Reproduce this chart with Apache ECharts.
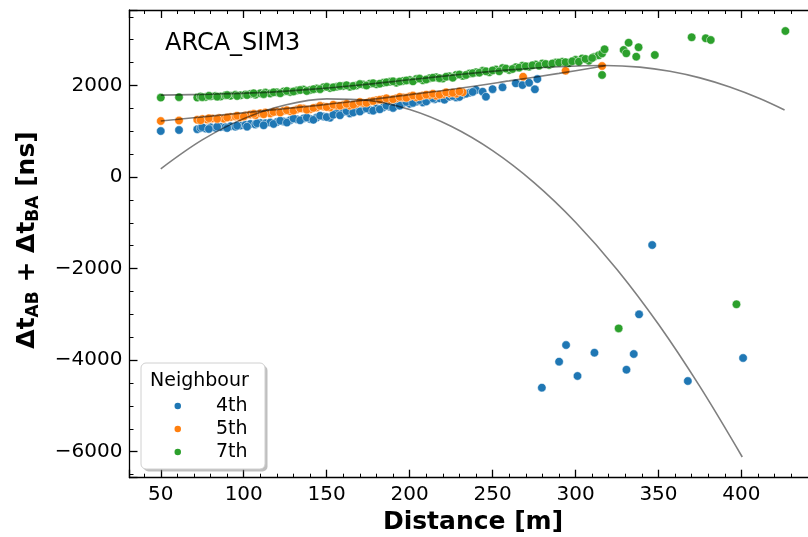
<!DOCTYPE html>
<html><head><meta charset="utf-8">
<script src="https://cdn.jsdelivr.net/npm/echarts@6/dist/echarts.min.js"></script>
<style>html,body{margin:0;padding:0;background:#fff}#c{width:808px;height:537px}</style>
</head><body><div id="c"></div>
<script>
// ---- data ----
const neighbours = ['4th', '5th', '7th'];

const dist4 = [50,61,72,74,77,80,83,86,89,92,95,98,101,104,107,110,113,116,120,124,128,132,136,140,144,148,152,156,160,164,168,172,176,180,184,188,192,196,200,204,208,211,215,218,221,224,228,232,236,240,244,246,250,256,264,268,272,275.5,277,
  75,79,84,90,96,102,108,112,118,122,126,130,134,138,142,146,150,154,158,162,166,170,174,178,182,186,190,194,198,202,206,210,214,226,230,234,238,
  279.7,290.1,294.3,301.2,311.4,330.7,335.1,338.3,346.2,367.7,401];
const dt4 = [1005,1027,1045,1070,1060,1085,1075,1095,1090,1110,1100,1125,1140,1160,1150,1180,1175,1190,1200,1215,1240,1260,1280,1270,1300,1320,1295,1400,1420,1390,1450,1480,1465,1500,1520,1537,1580,1617,1600,1647,1630,1683,1700,1720,1690,1755,1740,1800,1840,1902,1865,1755,1920,1960,2047,2010,2060,1917,2140,
  1090,1050,1100,1070,1120,1100,1175,1130,1160,1230,1190,1280,1240,1300,1250,1340,1310,1360,1350,1440,1410,1430,1500,1450,1480,1560,1510,1560,1640,1620,1680,1650,1720,1770,1750,1820,1860,
  -4601,-4033,-3670,-4346,-3837,-4208,-3866,-2999,-1485,-4456,-3953];

const dist5 = [50,61,72,75,78,81,85,88,92,95,98,101,104,107,110,113,116,120,124,128,132,136,140,144,148,152,156,160,164,168,172,176,180,184,188,192,196,200,204,208,212,216,220,224,228,232,
  74,79,84,90,96,100,106,112,118,122,126,130,134,138,142,146,150,154,158,162,166,170,174,178,182,186,190,194,198,202,206,210,214,218,222,226,230,
  268.4,294,316];
const dt5 = [1224,1235,1250,1270,1255,1280,1290,1275,1310,1325,1305,1345,1365,1350,1395,1410,1390,1430,1450,1435,1475,1495,1480,1520,1540,1520,1560,1580,1560,1600,1620,1650,1680,1700,1690,1720,1740,1760,1745,1780,1790,1775,1810,1830,1820,1850,
  1240,1285,1270,1300,1340,1320,1380,1370,1420,1410,1460,1450,1500,1470,1510,1555,1530,1580,1560,1600,1580,1640,1620,1660,1690,1720,1700,1750,1730,1780,1760,1800,1820,1800,1850,1840,1870,
  2192,2323,2425];

const dist7 = [50,61,72,74,77,80,83,86,89,92,95,98,101,104,107,110,113,116,120,124,128,132,136,140,144,148,152,156,160,164,168,172,176,180,184,188,192,196,200,204,208,212,216,220,224,228,232,236,240,244,248,252,256,260,264,268,272,276,280,284,288,292,296,300,304,308,311,314,316,316,317.5,
  75,79,84,90,96,102,106,112,118,122,126,130,134,138,142,146,150,154,158,162,166,170,174,178,182,186,190,194,198,202,206,210,214,218,222,226,230,234,238,242,246,250,254,258,262,266,270,274,278,282,286,290,294,298,302,306,310,
  329,332,330.6,338,336.6,347.8,370,378.5,381.5,426.5,326,397];
const dt7 = [1735,1745,1735,1760,1750,1765,1770,1760,1785,1775,1795,1785,1805,1815,1800,1830,1845,1825,1850,1870,1860,1890,1910,1900,1935,1960,1945,1975,1990,1970,2000,2020,2040,2025,2060,2080,2060,2100,2120,2140,2115,2160,2180,2150,2200,2230,2210,2260,2290,2320,2290,2350,2380,2340,2400,2430,2410,2460,2480,2450,2500,2520,2490,2560,2590,2540,2620,2660,2700,2230,2790,
  1745,1775,1755,1790,1770,1790,1830,1810,1850,1830,1880,1870,1900,1880,1920,1920,1970,1960,1990,2005,1990,2030,2000,2050,2040,2070,2090,2085,2110,2090,2150,2130,2170,2160,2190,2170,2240,2230,2270,2280,2310,2330,2310,2370,2360,2390,2420,2440,2430,2470,2480,2500,2510,2530,2520,2580,2600,
  2776,2935,2703,2835,2630,2666,3053,3031,2994,3190,-3306,-2780];

// fitted curves
const fitX4 = [50,75,100,125,150,175,200,225,250,275,300,325,350,375,400.5];
const fitY4 = [180,811,1276,1575,1708,1674,1474,1108,576,-122,-987,-2018,-3216,-4580,-6116];
const fitX5 = [50,80,110,140,170,200,230,260,290,318];
const fitY5 = [1224,1330,1440,1550,1665,1800,1940,2100,2265,2430];
const fitX7 = [50,80,110,140,170,200,230,260,290,318,338.8,356.9,375,393,411,426];
const fitY7 = [1790,1810,1845,1915,2010,2125,2240,2340,2410,2437,2401,2310,2166,1967,1716,1465];

const xTickLabels = [50,100,150,200,250,300,350,400];
const yTickLabels = [-6000,-4000,-2000,0,2000];

// ---- chart ----
const FONT = 'DejaVu Sans';
const COLORS = ['#1f77b4', '#ff7f0e', '#2ca02c'];
const pairs = (xs, ys) => xs.map((x, i) => [x, ys[i]]);
const chart = echarts.init(document.getElementById('c'), null, {renderer: 'canvas'});

const X_MIN = 31.15, X_MAX = 445.85, Y_MIN = -6568, Y_MAX = 3649;

function xAxis(pos, showLabel) {
  return {
    type: 'value', position: pos, min: X_MIN, max: X_MAX, splitNumber: 8,
    axisLine: {show: true, onZero: false, lineStyle: {color: '#000', width: 1.3}},
    axisTick: {show: true, inside: true, length: 8, lineStyle: {color: '#000', width: 1.3}},
    minorTick: {show: true, splitNumber: 5, length: 4, lineStyle: {color: '#000', width: 1}},
    splitLine: {show: false},
    axisLabel: {
      show: showLabel, fontFamily: FONT, fontSize: 20, color: '#000', margin: 7,
      formatter: v => xTickLabels.some(t => Math.abs(t - v) < 1e-6) ? String(Math.round(v)) : ''
    }
  };
}
function yAxis(pos, showLabel) {
  return {
    type: 'value', position: pos, min: Y_MIN, max: Y_MAX, splitNumber: 5,
    axisLine: {show: true, onZero: false, lineStyle: {color: '#000', width: 1.3}},
    axisTick: {show: true, inside: true, length: 8, lineStyle: {color: '#000', width: 1.3}},
    minorTick: {show: true, splitNumber: 4, length: 4, lineStyle: {color: '#000', width: 1}},
    splitLine: {show: false},
    axisLabel: {
      show: showLabel, fontFamily: FONT, fontSize: 20, color: '#000', margin: 7,
      formatter: v => yTickLabels.some(t => Math.abs(t - v) < 1e-6) ? String(Math.round(v)).replace('-', '\u2212') : ''
    }
  };
}

const scatter = (i, xs, ys) => ({
  name: neighbours[i], type: 'scatter', xAxisIndex: 0, yAxisIndex: 0,
  data: pairs(xs, ys), symbol: 'circle', symbolSize: 8.5, z: 2,
  itemStyle: {color: COLORS[i], borderColor: '#fff', borderWidth: 0.5, opacity: 1}
});
const fit = (name, xs, ys) => ({
  name, type: 'line', xAxisIndex: 0, yAxisIndex: 0, data: pairs(xs, ys),
  smooth: 0.35, showSymbol: false, symbol: 'none', z: 3, silent: true,
  lineStyle: {color: 'rgba(0,0,0,0.5)', width: 1.6}
});

chart.setOption({
  animation: false,
  backgroundColor: '#fff',
  grid: {left: 129.5, top: 10, width: 688, height: 467.7, containLabel: false, outerBoundsMode: 'none'},
  xAxis: [xAxis('bottom', true), xAxis('top', false)],
  yAxis: [yAxis('left', true), yAxis('right', false)],
  legend: {
    data: neighbours, orient: 'vertical', left: 172.5, top: 394.5,
    itemWidth: 8.5, itemHeight: 8.5, itemGap: 0, padding: 0, icon: 'circle', z: 30,
    textStyle: {fontFamily: FONT, fontSize: 19, color: '#000', lineHeight: 23, padding: [0, 0, 0, 29]}
  },
  graphic: [
    {type: 'rect', z: 20, shape: {x: 143.5, y: 365.5, width: 124, height: 106, r: 5}, style: {fill: 'rgba(128,128,128,0.5)'}},
    {type: 'rect', z: 21, shape: {x: 141, y: 363, width: 124, height: 106, r: 5}, style: {fill: '#fff', stroke: '#d0d0d0', lineWidth: 1}},
    {type: 'text', z: 22, x: 150, y: 381, style: {text: 'Neighbour', fontFamily: FONT, fontSize: 19, fill: '#000', textVerticalAlign: 'middle', textAlign: 'left'}},
    {type: 'text', z: 22, x: 165, y: 44, style: {text: 'ARCA_SIM3', fontFamily: FONT, fontSize: 24, fill: '#000', textVerticalAlign: 'middle', textAlign: 'left'}},
    {type: 'text', z: 22, x: 473, y: 522, style: {text: 'Distance [m]', fontFamily: FONT, fontSize: 25, fontWeight: 'bold', fill: '#000', textVerticalAlign: 'middle', textAlign: 'center'}},
    {type: 'text', z: 22, x: 27, y: 240, rotation: Math.PI / 2,
      style: {
        text: '{m|\u0394t}{s|AB}{m| + \u0394t}{s|BA}{m| [ns]}',
        textAlign: 'center', textVerticalAlign: 'middle', fill: '#000',
        rich: {
          m: {fontFamily: FONT, fontSize: 25, fontWeight: 'bold', lineHeight: 30, verticalAlign: 'middle', fill: '#000'},
          s: {fontFamily: FONT, fontSize: 17, fontWeight: 'bold', lineHeight: 15, verticalAlign: 'bottom', fill: '#000'}
        }
      }}
  ],
  series: [
    scatter(0, dist4, dt4),
    scatter(1, dist5, dt5),
    scatter(2, dist7, dt7),
    fit('fit 4th', fitX4, fitY4),
    fit('fit 5th', fitX5, fitY5),
    fit('fit 7th', fitX7, fitY7)
  ]
});
</script></body></html>
